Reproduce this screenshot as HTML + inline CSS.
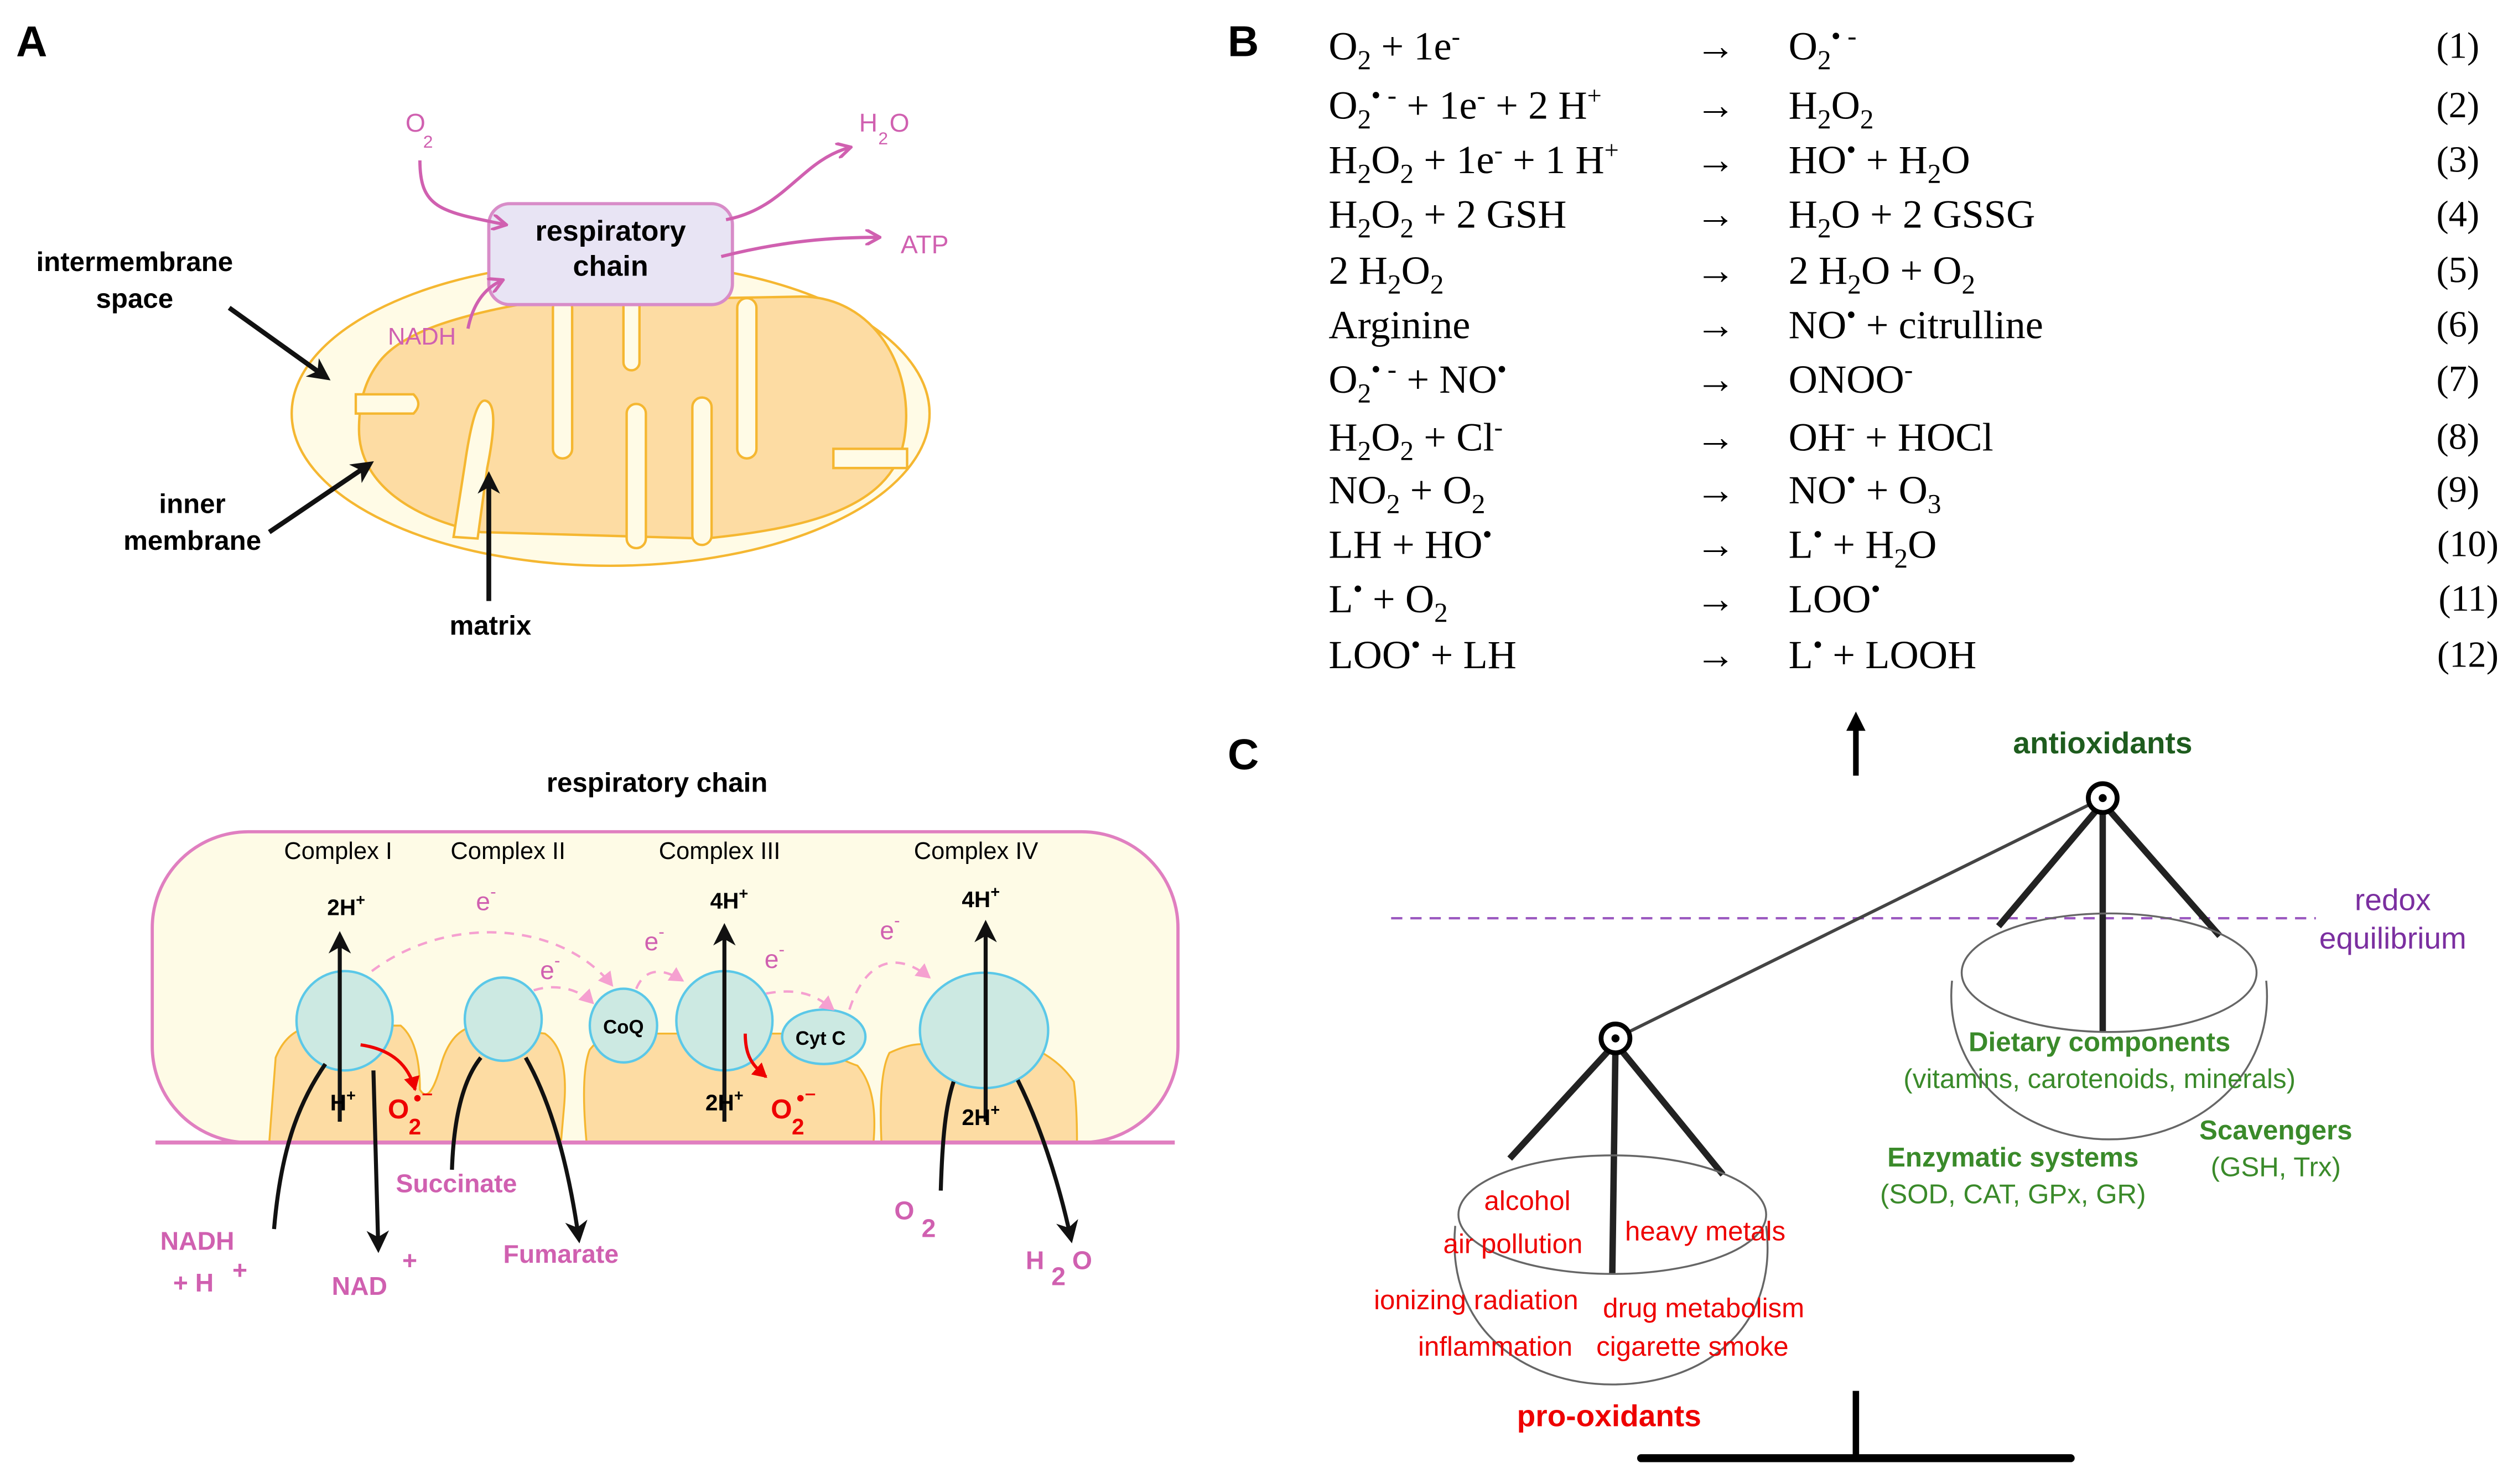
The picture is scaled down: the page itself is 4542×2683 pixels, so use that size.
<!DOCTYPE html>
<html><head><meta charset="utf-8"><style>
html,body{margin:0;padding:0;background:#fff}
svg{display:block}
text{font-family:"Liberation Sans",sans-serif}
.s{font-family:"Liberation Serif",serif;font-size:25px;fill:#000}
</style></head><body>
<svg width="4542" height="2683" viewBox="0 0 1568 926" xmlns="http://www.w3.org/2000/svg">
<defs>
<marker id="abig" markerWidth="14" markerHeight="14" refX="10" refY="7" orient="auto" markerUnits="userSpaceOnUse"><path d="M0,0 L14,7 L0,14 L4,7 Z" fill="#111"/></marker>
<marker id="ap" markerWidth="10" markerHeight="10" refX="8" refY="5" orient="auto" markerUnits="userSpaceOnUse"><path d="M0,0 L9,5 L0,10" fill="none" stroke="#d060b0" stroke-width="2"/></marker>
<marker id="apl" markerWidth="10" markerHeight="10" refX="8" refY="5" orient="auto" markerUnits="userSpaceOnUse"><path d="M0,0 L9,5 L0,10 Z" fill="#f5a0d0"/></marker>
<marker id="ar" markerWidth="10" markerHeight="10" refX="8" refY="5" orient="auto" markerUnits="userSpaceOnUse"><path d="M0,0 L9,5 L0,10 Z" fill="#e00"/></marker>
</defs>

<text x="10" y="35" font-size="27" font-weight="bold">A</text>
<text x="766" y="35" font-size="27" font-weight="bold">B</text>
<text x="766" y="480" font-size="27" font-weight="bold">C</text>

<!-- Mitochondrion -->
<ellipse cx="381" cy="258" rx="199" ry="95" fill="#fffbe6" stroke="#f5b731" stroke-width="1.5"/>
<path d="M235,228 C250,205 295,195 335,188 L500,185 C545,185 572,230 564,275 C556,318 500,330 440,336 L300,332 C258,324 224,302 224,268 C224,250 228,238 235,228 Z" fill="#fddca3" stroke="#f5b731" stroke-width="1.5"/>
<g fill="#fffbe6" stroke="#f5b731" stroke-width="1.5">
<path d="M222,246 L258,246 Q264,252 258,258 L222,258 Z"/>
<rect x="345" y="186" width="12" height="100" rx="6"/>
<rect x="389" y="186" width="10" height="45" rx="5"/>
<rect x="460" y="186" width="12" height="100" rx="6"/>
<path d="M283,335 L290,290 Q296,248 303,250 Q312,252 304,292 L298,336 Z"/>
<rect x="391" y="252" width="12" height="90" rx="6"/>
<rect x="432" y="248" width="12" height="92" rx="6"/>
<path d="M520,280 L566,280 L566,292 L520,292 Z"/>
</g>
<rect x="305" y="127" width="152" height="63" rx="13" fill="#e8e4f4" stroke="#d88cc8" stroke-width="2"/>
<text x="381" y="150" font-size="18" font-weight="bold" text-anchor="middle">respiratory</text>
<text x="381" y="172" font-size="18" font-weight="bold" text-anchor="middle">chain</text>
<g fill="none" stroke="#d060b0" stroke-width="2">
<path d="M262,100 C262,130 275,132 315,140" marker-end="url(#ap)"/>
<path d="M453,137 C490,130 500,100 530,92" marker-end="url(#ap)"/>
<path d="M450,160 C490,150 520,148 548,148" marker-end="url(#ap)"/>
<path d="M292,205 C295,190 302,180 313,175" marker-end="url(#ap)"/>
</g>
<text x="253" y="82" font-size="16" fill="#d060b0">O</text><text x="264" y="92" font-size="11" fill="#d060b0">2</text>
<text x="536" y="82" font-size="16" fill="#d060b0">H</text><text x="548" y="90" font-size="11" fill="#d060b0">2</text><text x="555" y="82" font-size="16" fill="#d060b0">O</text>
<text x="562" y="158" font-size="16" fill="#d060b0">ATP</text>
<text x="242" y="215" font-size="15" fill="#d060b0">NADH</text>
<text x="84" y="169" font-size="17" font-weight="bold" text-anchor="middle">intermembrane</text>
<text x="84" y="192" font-size="17" font-weight="bold" text-anchor="middle">space</text>
<text x="120" y="320" font-size="17" font-weight="bold" text-anchor="middle">inner</text>
<text x="120" y="343" font-size="17" font-weight="bold" text-anchor="middle">membrane</text>
<text x="306" y="396" font-size="17" font-weight="bold" text-anchor="middle">matrix</text>
<g stroke="#111" stroke-width="3" fill="none">
<line x1="143" y1="192" x2="203" y2="235" marker-end="url(#abig)"/>
<line x1="168" y1="332" x2="230" y2="290" marker-end="url(#abig)"/>
<line x1="305" y1="375" x2="305" y2="298" marker-end="url(#abig)"/>
</g>

<!-- Respiratory chain panel -->
<text x="410" y="494" font-size="17" font-weight="bold" text-anchor="middle">respiratory chain</text>
<rect x="95" y="519" width="640" height="194" rx="60" fill="#fefbe6" stroke="#e07fc0" stroke-width="2"/>
<g fill="#fddca3" stroke="#f5b731" stroke-width="1.2">
<path d="M168,713 L172,660 Q180,640 200,640 L250,640 Q262,650 262,680 Q268,690 275,665 Q282,640 300,640 L340,645 Q355,655 352,690 L350,713 Z"/>
<path d="M366,713 Q362,670 368,655 Q380,640 400,645 L500,645 Q520,660 535,665 Q548,680 545,713 Z"/>
<path d="M550,713 Q548,670 555,657 Q570,650 580,652 L640,652 Q660,660 670,675 Q672,690 672,713 Z"/>
</g>
<line x1="97" y1="713" x2="733" y2="713" stroke="#e07fc0" stroke-width="2.5"/>
<g fill="#cce9e2" stroke="#5bc8e8" stroke-width="1.5">
<ellipse cx="215" cy="637" rx="30" ry="31"/>
<ellipse cx="314" cy="636" rx="24" ry="26"/>
<ellipse cx="389" cy="640" rx="21" ry="23"/>
<ellipse cx="452" cy="637" rx="30" ry="31"/>
<ellipse cx="514" cy="647" rx="26" ry="17"/>
<ellipse cx="614" cy="643" rx="40" ry="36"/>
</g>
<text x="389" y="645" font-size="12" font-weight="bold" text-anchor="middle">CoQ</text>
<text x="512" y="652" font-size="12" font-weight="bold" text-anchor="middle">Cyt C</text>
<g font-size="15" text-anchor="middle">
<text x="211" y="536">Complex I</text>
<text x="317" y="536">Complex II</text>
<text x="449" y="536">Complex III</text>
<text x="609" y="536">Complex IV</text>
</g>
<g stroke="#111" stroke-width="2.5" fill="none">
<line x1="212" y1="700" x2="212" y2="585" marker-end="url(#abig)"/>
<line x1="452" y1="700" x2="452" y2="580" marker-end="url(#abig)"/>
<line x1="615" y1="700" x2="615" y2="578" marker-end="url(#abig)"/>
<path d="M171,767 C175,720 185,690 203,664"/>
<path d="M233,668 L236,778" marker-end="url(#abig)"/>
<path d="M282,730 C283,700 288,675 300,660"/>
<path d="M328,660 C345,690 355,730 361,772" marker-end="url(#abig)"/>
<path d="M587,743 C588,710 590,690 595,675"/>
<path d="M635,674 C648,700 660,735 668,772" marker-end="url(#abig)"/>
</g>
<g font-size="14" font-weight="bold" text-anchor="middle">
<text x="216" y="571">2H<tspan font-size="10" dy="-6">+</tspan></text>
<text x="455" y="567">4H<tspan font-size="10" dy="-6">+</tspan></text>
<text x="612" y="566">4H<tspan font-size="10" dy="-6">+</tspan></text>
<text x="214" y="693">H<tspan font-size="10" dy="-6">+</tspan></text>
<text x="452" y="693">2H<tspan font-size="10" dy="-6">+</tspan></text>
<text x="612" y="702">2H<tspan font-size="10" dy="-6">+</tspan></text>
</g>
<g fill="#e00" font-weight="bold">
<text x="242" y="698" font-size="17">O</text><text x="255" y="708" font-size="14">2</text><text x="258" y="690" font-size="14">•⁻</text>
<text x="481" y="698" font-size="17">O</text><text x="494" y="708" font-size="14">2</text><text x="497" y="690" font-size="14">•⁻</text>
</g>
<g stroke="#e00" stroke-width="2" fill="none">
<path d="M225,652 C245,655 255,665 259,680" marker-end="url(#ar)"/>
<path d="M465,645 C465,660 470,665 478,672" marker-end="url(#ar)"/>
</g>
<g stroke="#f5a0d0" stroke-width="1.5" fill="none" stroke-dasharray="6,5">
<path d="M232,606 C280,570 350,575 382,615" marker-end="url(#apl)"/>
<path d="M333,618 C345,614 360,616 370,626" marker-end="url(#apl)"/>
<path d="M397,617 C402,605 412,603 426,612" marker-end="url(#apl)"/>
<path d="M478,620 C500,616 510,622 520,630" marker-end="url(#apl)"/>
<path d="M530,630 C538,605 555,590 580,610" marker-end="url(#apl)"/>
</g>
<g fill="#d060b0" font-size="16">
<text x="297" y="568">e<tspan font-size="11" dy="-8">-</tspan></text>
<text x="337" y="611">e<tspan font-size="11" dy="-8">-</tspan></text>
<text x="402" y="593">e<tspan font-size="11" dy="-8">-</tspan></text>
<text x="477" y="604">e<tspan font-size="11" dy="-8">-</tspan></text>
<text x="549" y="586">e<tspan font-size="11" dy="-8">-</tspan></text>
</g>
<g fill="#d060b0" font-size="16" font-weight="bold">
<text x="100" y="780">NADH</text>
<text x="108" y="806">+ H</text><text x="145" y="798">+</text>
<text x="207" y="808">NAD</text><text x="251" y="792">+</text>
<text x="247" y="744">Succinate</text>
<text x="314" y="788">Fumarate</text>
<text x="558" y="761">O</text><text x="575" y="772">2</text>
<text x="640" y="792">H</text><text x="656" y="802">2</text><text x="669" y="792">O</text>
</g>

<!-- B equations -->
<text class="s" x="829" y="37">O<tspan font-size="17" dy="6">2</tspan><tspan dy="-6"> + 1e</tspan><tspan font-size="16" dy="-9">-</tspan></text>
<text class="s" x="829" y="74">O<tspan font-size="17" dy="6">2</tspan><tspan font-size="17" dy="-15">• -</tspan><tspan dy="9"> + 1e</tspan><tspan font-size="16" dy="-9">-</tspan><tspan dy="9"> + 2 H</tspan><tspan font-size="16" dy="-9">+</tspan></text>
<text class="s" x="829" y="108">H<tspan font-size="17" dy="6">2</tspan><tspan dy="-6">O</tspan><tspan font-size="17" dy="6">2</tspan><tspan dy="-6"> + 1e</tspan><tspan font-size="16" dy="-9">-</tspan><tspan dy="9"> + 1 H</tspan><tspan font-size="16" dy="-9">+</tspan></text>
<text class="s" x="829" y="142">H<tspan font-size="17" dy="6">2</tspan><tspan dy="-6">O</tspan><tspan font-size="17" dy="6">2</tspan><tspan dy="-6"> + 2 GSH</tspan></text>
<text class="s" x="829" y="177">2 H<tspan font-size="17" dy="6">2</tspan><tspan dy="-6">O</tspan><tspan font-size="17" dy="6">2</tspan></text>
<text class="s" x="829" y="211">Arginine</text>
<text class="s" x="829" y="245">O<tspan font-size="17" dy="6">2</tspan><tspan font-size="17" dy="-15">• -</tspan><tspan dy="9"> + NO</tspan><tspan font-size="17" dy="-9">•</tspan></text>
<text class="s" x="829" y="281">H<tspan font-size="17" dy="6">2</tspan><tspan dy="-6">O</tspan><tspan font-size="17" dy="6">2</tspan><tspan dy="-6"> + Cl</tspan><tspan font-size="16" dy="-9">-</tspan></text>
<text class="s" x="829" y="314">NO<tspan font-size="17" dy="6">2</tspan><tspan dy="-6"> + O</tspan><tspan font-size="17" dy="6">2</tspan></text>
<text class="s" x="829" y="348">LH + HO<tspan font-size="17" dy="-9">•</tspan></text>
<text class="s" x="829" y="382">L<tspan font-size="17" dy="-9">•</tspan><tspan dy="9"> + O</tspan><tspan font-size="17" dy="6">2</tspan></text>
<text class="s" x="829" y="417">LOO<tspan font-size="17" dy="-9">•</tspan><tspan dy="9"> + LH</tspan></text>
<g>
<text class="s" x="1058" y="37">→</text><text class="s" x="1058" y="74">→</text><text class="s" x="1058" y="108">→</text>
<text class="s" x="1058" y="142">→</text><text class="s" x="1058" y="177">→</text><text class="s" x="1058" y="211">→</text>
<text class="s" x="1058" y="245">→</text><text class="s" x="1058" y="281">→</text><text class="s" x="1058" y="314">→</text>
<text class="s" x="1058" y="348">→</text><text class="s" x="1058" y="382">→</text><text class="s" x="1058" y="417">→</text>
</g>
<text class="s" x="1116" y="37">O<tspan font-size="17" dy="6">2</tspan><tspan font-size="17" dy="-15">• -</tspan></text>
<text class="s" x="1116" y="74">H<tspan font-size="17" dy="6">2</tspan><tspan dy="-6">O</tspan><tspan font-size="17" dy="6">2</tspan></text>
<text class="s" x="1116" y="108">HO<tspan font-size="17" dy="-9">•</tspan><tspan dy="9"> + H</tspan><tspan font-size="17" dy="6">2</tspan><tspan dy="-6">O</tspan></text>
<text class="s" x="1116" y="142">H<tspan font-size="17" dy="6">2</tspan><tspan dy="-6">O + 2 GSSG</tspan></text>
<text class="s" x="1116" y="177">2 H<tspan font-size="17" dy="6">2</tspan><tspan dy="-6">O + O</tspan><tspan font-size="17" dy="6">2</tspan></text>
<text class="s" x="1116" y="211">NO<tspan font-size="17" dy="-9">•</tspan><tspan dy="9"> + citrulline</tspan></text>
<text class="s" x="1116" y="245">ONOO<tspan font-size="16" dy="-9">-</tspan></text>
<text class="s" x="1116" y="281">OH<tspan font-size="16" dy="-9">-</tspan><tspan dy="9"> + HOCl</tspan></text>
<text class="s" x="1116" y="314">NO<tspan font-size="17" dy="-9">•</tspan><tspan dy="9"> + O</tspan><tspan font-size="17" dy="6">3</tspan></text>
<text class="s" x="1116" y="348">L<tspan font-size="17" dy="-9">•</tspan><tspan dy="9"> + H</tspan><tspan font-size="17" dy="6">2</tspan><tspan dy="-6">O</tspan></text>
<text class="s" x="1116" y="382">LOO<tspan font-size="17" dy="-9">•</tspan></text>
<text class="s" x="1116" y="417">L<tspan font-size="17" dy="-9">•</tspan><tspan dy="9"> + LOOH</tspan></text>
<g>
<text x="1547" y="36" text-anchor="end" class="s" style="font-size:23px">(1)</text>
<text x="1547" y="73" text-anchor="end" class="s" style="font-size:23px">(2)</text>
<text x="1547" y="107" text-anchor="end" class="s" style="font-size:23px">(3)</text>
<text x="1547" y="141" text-anchor="end" class="s" style="font-size:23px">(4)</text>
<text x="1547" y="176" text-anchor="end" class="s" style="font-size:23px">(5)</text>
<text x="1547" y="210" text-anchor="end" class="s" style="font-size:23px">(6)</text>
<text x="1547" y="244" text-anchor="end" class="s" style="font-size:23px">(7)</text>
<text x="1547" y="280" text-anchor="end" class="s" style="font-size:23px">(8)</text>
<text x="1547" y="313" text-anchor="end" class="s" style="font-size:23px">(9)</text>
<text x="1559" y="347" text-anchor="end" class="s" style="font-size:23px">(10)</text>
<text x="1559" y="381" text-anchor="end" class="s" style="font-size:23px">(11)</text>
<text x="1559" y="416" text-anchor="end" class="s" style="font-size:23px">(12)</text>
</g>

<!-- C balance -->
<line x1="1158" y1="484" x2="1158" y2="452" stroke="#000" stroke-width="3.5"/>
<path d="M1152,456 L1158,444 L1164,456 Z" fill="#000"/>
<text x="1312" y="470" font-size="19" font-weight="bold" fill="#1e5c1e" text-anchor="middle">antioxidants</text>
<line x1="868" y1="573" x2="1445" y2="573" stroke="#9b59c0" stroke-width="1.5" stroke-dasharray="7,5"/>
<text x="1493" y="568" font-size="19" fill="#7b2fa0" text-anchor="middle">redox</text>
<text x="1493" y="592" font-size="19" fill="#7b2fa0" text-anchor="middle">equilibrium</text>
<line x1="1312" y1="498" x2="1008" y2="648" stroke="#444" stroke-width="2"/>
<g stroke="#222" stroke-width="4" fill="none">
<line x1="1312" y1="501" x2="1247" y2="578"/>
<line x1="1312" y1="501" x2="1385" y2="584"/>
<line x1="1312" y1="501" x2="1312" y2="644"/>
<line x1="1008" y1="651" x2="942" y2="723"/>
<line x1="1008" y1="651" x2="1075" y2="733"/>
<line x1="1008" y1="651" x2="1006" y2="795"/>
</g>
<g stroke="#666" stroke-width="1.2" fill="none">
<ellipse cx="1316" cy="607" rx="92" ry="37"/>
<path d="M1218,612 C1212,670 1262,711 1316,711 C1372,711 1420,670 1414,612"/>
<ellipse cx="1006" cy="758" rx="96" ry="37"/>
<path d="M908,765 C902,830 952,864 1006,864 C1062,864 1110,830 1102,765"/>
</g>
<circle cx="1312" cy="498" r="9" fill="#fff" stroke="#000" stroke-width="3"/><circle cx="1312" cy="498" r="2.5" fill="#000"/>
<circle cx="1008" cy="648" r="9" fill="#fff" stroke="#000" stroke-width="3"/><circle cx="1008" cy="648" r="2.5" fill="#000"/>
<g font-size="17" text-anchor="middle" fill="#3a8a2a">
<text x="1310" y="656" font-weight="bold">Dietary components</text>
<text x="1310" y="679">(vitamins, carotenoids, minerals)</text>
<text x="1256" y="728" font-weight="bold">Enzymatic systems</text>
<text x="1256" y="751">(SOD, CAT, GPx, GR)</text>
<text x="1420" y="711" font-weight="bold">Scavengers</text>
<text x="1420" y="734">(GSH, Trx)</text>
</g>
<g font-size="17" text-anchor="middle" fill="#e00">
<text x="953" y="755">alcohol</text>
<text x="944" y="782">air pollution</text>
<text x="1064" y="774">heavy metals</text>
<text x="921" y="817">ionizing radiation</text>
<text x="1063" y="822">drug metabolism</text>
<text x="933" y="846">inflammation</text>
<text x="1056" y="846">cigarette smoke</text>
<text x="1004" y="890" font-size="19" font-weight="bold">pro-oxidants</text>
</g>
<line x1="1158" y1="868" x2="1158" y2="910" stroke="#000" stroke-width="4"/>
<line x1="1024" y1="910" x2="1292" y2="910" stroke="#000" stroke-width="5" stroke-linecap="round"/>
</svg>
</body></html>
